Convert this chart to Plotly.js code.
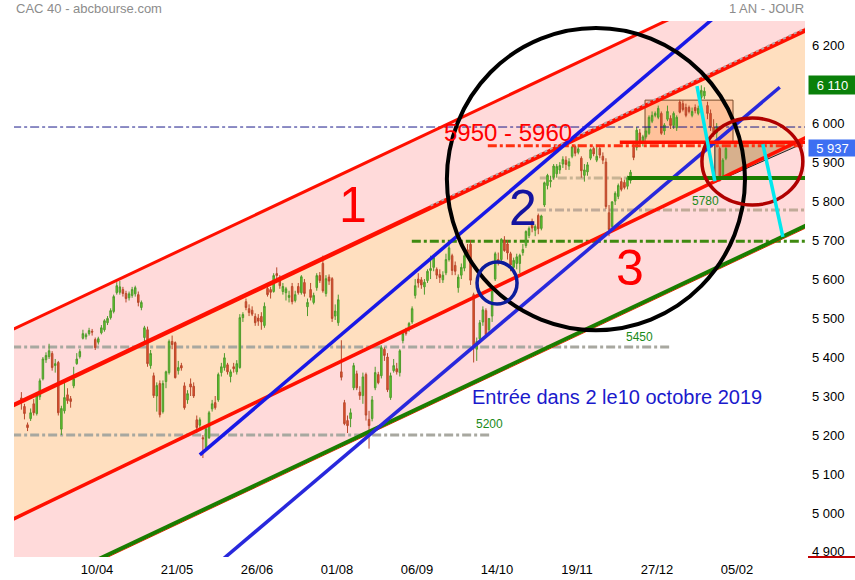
<!DOCTYPE html>
<html>
<head>
<meta charset="utf-8">
<script src="https://cdn.plot.ly/plotly-3.0.1.min.js"></script>
<style>html,body{margin:0;padding:0;background:#fff;}#chart{width:855px;height:580px;}</style>
</head>
<body>
<div id="chart"></div>
<script>
// ---- Daily OHLC, CAC 40, 06/03/2019 -> 29/01/2020 (one value per trading session) ----
const open = [5295,5273,5226,5242,5280,5255,5298,5344,5393,5401,5409,5378,5386,5215,5262,5303,5293,5326,5383,5401,
5448,5452,5460,5466,5445,5438,5462,5470,5488,5501,5517,5565,5566,5573,5563,5552,5558,5562,5560,5527,
5450,5470,5378,5352,5300,5332,5260,5337,5360,5440,5437,5365,5378,5326,5290,5331,5325,5239,5225,5193,
5167,5193,5267,5283,5290,5360,5373,5380,5350,5375,5362,5373,5501,5542,5524,5520,5504,5500,5504,5481,
5576,5573,5568,5614,5599,5568,5565,5553,5581,5545,5581,5565,5591,5529,5573,5540,5578,5609,5640,5563,
5605,5601,5505,5488,5362,5283,5237,5242,5321,5357,5310,5301,5355,5240,5242,5321,5355,5352,5420,5400,
5296,5365,5370,5360,5442,5468,5473,5490,5558,5600,5598,5580,5596,5622,5630,5625,5612,5598,5616,5650,
5660,5635,5578,5610,5628,5675,5689,5560,5420,5447,5490,5519,5470,5505,5600,5650,5650,5700,5690,5665,
5630,5640,5640,5668,5686,5712,5748,5725,5763,5730,5790,5840,5850,5861,5870,5880,5895,5905,5890,5915,
5940,5925,5910,5866,5875,5910,5935,5905,5935,5915,5900,5770,5735,5800,5812,5850,5848,5838,5853,5938,
5938,5975,5950,5965,5974,6005,6020,6015,6025,5980,6010,6012,5994,5988,6054,6050,6040,6040,6020,6040,
6025,6066,6070,6045,6025,5990,5975,5935,5862,5910];
const high = [5310,5280,5232,5268,5292,5306,5345,5400,5412,5434,5415,5395,5390,5275,5335,5320,5300,5375,5410,5420,
5470,5462,5475,5472,5450,5452,5482,5497,5505,5525,5560,5592,5595,5580,5570,5568,5580,5583,5568,5545,
5480,5478,5418,5360,5335,5340,5340,5365,5445,5455,5440,5390,5385,5335,5315,5345,5335,5250,5245,5200,
5222,5262,5290,5300,5360,5385,5410,5385,5368,5385,5392,5510,5515,5550,5535,5530,5512,5510,5515,5540,
5590,5580,5615,5630,5610,5590,5580,5570,5590,5570,5590,5610,5600,5550,5590,5565,5615,5618,5660,5610,
5612,5605,5535,5560,5443,5290,5250,5268,5385,5365,5325,5360,5360,5262,5300,5375,5362,5430,5425,5410,
5360,5395,5385,5420,5465,5475,5490,5530,5600,5615,5605,5600,5625,5660,5660,5630,5625,5620,5665,5695,
5665,5645,5612,5640,5668,5690,5700,5565,5450,5495,5530,5525,5500,5575,5670,5668,5705,5710,5700,5670,
5655,5665,5665,5690,5725,5735,5755,5740,5768,5765,5850,5870,5865,5895,5895,5900,5915,5915,5910,5940,
5945,5945,5915,5895,5900,5935,5940,5945,5940,5925,5910,5790,5800,5825,5845,5860,5855,5865,5880,5950,
5990,5985,5970,5990,6020,6030,6030,6045,6030,6000,6045,6020,6030,6020,6060,6058,6050,6045,6040,6048,
6045,6097,6092,6055,6035,6010,6000,5940,5910,5940];
const low = [5265,5240,5210,5236,5250,5250,5290,5340,5385,5395,5365,5360,5250,5200,5255,5280,5270,5320,5380,5396,
5445,5445,5455,5455,5418,5432,5458,5465,5482,5496,5512,5560,5560,5555,5540,5545,5552,5555,5530,5520,
5440,5375,5370,5295,5260,5245,5255,5320,5355,5420,5345,5355,5365,5265,5280,5300,5295,5205,5218,5141,
5160,5190,5260,5265,5285,5350,5365,5355,5335,5360,5355,5370,5490,5520,5505,5505,5480,5480,5470,5475,
5555,5550,5565,5600,5575,5560,5545,5540,5535,5540,5560,5560,5555,5505,5545,5535,5570,5590,5565,5555,
5585,5490,5495,5480,5340,5225,5205,5220,5315,5315,5290,5280,5237,5165,5235,5315,5330,5345,5390,5310,
5290,5360,5355,5350,5435,5455,5465,5485,5550,5578,5575,5560,5590,5600,5620,5600,5590,5590,5610,5645,
5610,5610,5565,5600,5620,5655,5585,5386,5390,5440,5480,5450,5460,5490,5595,5635,5645,5670,5650,5620,
5620,5625,5615,5660,5680,5705,5720,5710,5715,5725,5785,5830,5835,5855,5860,5870,5885,5880,5880,5910,
5915,5920,5860,5850,5865,5905,5915,5900,5910,5895,5780,5710,5730,5790,5805,5825,5830,5830,5845,5905,
5930,5945,5940,5960,5970,6000,6015,6010,5970,5970,6005,5985,5985,5980,6025,6030,6015,6025,6015,6025,
6020,6060,6062,6010,5980,5965,5960,5850,5855,5905];
const close = [5285,5255,5219,5257,5257,5301,5339,5395,5404,5416,5373,5383,5257,5268,5296,5288,5286,5344,5395,5414,
5460,5457,5468,5464,5424,5447,5475,5493,5499,5519,5555,5583,5580,5563,5550,5562,5573,5578,5540,5540,
5475,5383,5409,5301,5327,5252,5332,5362,5440,5432,5347,5373,5372,5270,5306,5323,5300,5219,5239,5190,
5216,5257,5280,5270,5355,5375,5398,5362,5362,5370,5383,5501,5509,5527,5514,5510,5488,5492,5490,5530,
5560,5566,5609,5609,5583,5581,5575,5558,5542,5560,5565,5606,5563,5540,5553,5558,5609,5596,5570,5601,
5595,5499,5518,5547,5348,5229,5224,5257,5378,5321,5301,5349,5251,5224,5290,5360,5334,5424,5404,5316,
5352,5378,5362,5416,5460,5460,5486,5524,5583,5590,5585,5592,5620,5627,5655,5610,5604,5610,5650,5680,
5622,5620,5605,5630,5660,5665,5597,5424,5440,5488,5521,5457,5499,5569,5665,5643,5702,5673,5667,5636,
5648,5657,5661,5676,5722,5730,5731,5735,5729,5762,5847,5866,5853,5890,5889,5891,5907,5894,5901,5939,
5923,5934,5878,5880,5893,5932,5921,5915,5918,5905,5786,5727,5798,5820,5840,5830,5835,5860,5874,5912,
5982,5955,5965,5980,6015,6020,6025,6038,5974,5995,6030,5994,6025,6015,6028,6035,6020,6030,6030,6032,
6038,6084,6082,6025,5989,5977,5990,5858,5905,5935];

// ---- Axis labels ----
const xTickLabels = ['10/04','21/05','26/06','01/08','06/09','14/10','19/11','27/12','05/02'];
const xTickPos = [24.6, 50.6, 76.6, 102.6, 128.6, 154.6, 180.6, 206.6, 232.6];
const yTickVals = [4900,5000,5100,5200,5300,5400,5500,5600,5700,5800,5900,6000,6200];
const yTickText = ['4 900','5 000','5 100','5 200','5 300','5 400','5 500','5 600','5 700','5 800','5 900','6 000','6 200'];

// ---- Analyst drawings, in (session index, price) units ----
const channelTop    = [[-3, 5470], [255, 6432]];   // red line, top of zone 1
const channelMidUp  = [[-3, 5275], [255, 6239]];   // thick red line
const channelMidLow = [[-3, 4983], [255, 5963]];   // red line, bottom of zone 2
const supportGreen  = [[-3, 4777], [255, 5737]];   // green long-term support
const blueUpper     = [[58.0, 5149], [230, 6303]];
const blueLower     = [[65.3, 4880], [246.5, 6092]];
const cyanA         = [[219.6, 6095], [225.4, 5851]];
const cyanB         = [[241.0, 5946], [247.5, 5708]];
const levelNavy     = {y: 5990, x0: -3, x1: 255};
const levelRedDash  = {y: 5942, x0: 151.6, x1: 255};
const levelRedSolid = {y: 5951, x0: 194.5, x1: 255};
const levelGreen    = {y: 5859, x0: 197.1, x1: 255};
const levelTan1     = {y: 5859, x0: 168.5, x1: 197.1};
const levelTan2     = {y: 5777, x0: 167.6, x1: 255};
const levelGreenDash= {y: 5697, x0: 126.9, x1: 255};
const level5450     = {y: 5426, x0: -3, x1: 211.4};
const level5200     = {y: 5200, x0: -3, x1: 152.3};
const boxRange      = {x0: 202.7, x1: 231.3, y0: 5951, y1: 6059};
const triangle      = [[225.4, 5950], [225.4, 5848], [254.7, 5950]];
const bigCircle     = {x0: 138.3, x1: 235.2, y0: 5469, y1: 6244};
const smallCircle   = {x0: 148.1, x1: 161.1, y0: 5536, y1: 5644};
const redCircle     = {x0: 221.2, x1: 254.0, y0: 5790, y1: 6013};

const idx = close.map((_, i) => i);

const trace = {
  type: 'candlestick', x: idx, open: open, high: high, low: low, close: close,
  increasing: {line: {color: '#4f9a2c', width: 1}, fillcolor: '#5fd02a'},
  decreasing: {line: {color: '#b8482c', width: 1}, fillcolor: '#e8502a'},
  whiskerwidth: 0, hoverinfo: 'none', showlegend: false
};

function seg(p, color, width, dash, layer) {
  return {type: 'line', xref: 'x', yref: 'y', x0: p[0][0], y0: p[0][1], x1: p[1][0], y1: p[1][1],
          line: {color: color, width: width, dash: dash || 'solid'}, layer: layer || 'above'};
}
function hline(h, color, width, dash, layer) {
  return {type: 'line', xref: 'x', yref: 'y', x0: h.x0, x1: h.x1, y0: h.y, y1: h.y,
          line: {color: color, width: width, dash: dash || 'solid'}, layer: layer || 'above'};
}
function band(a, b, color) {
  return {type: 'path', xref: 'x', yref: 'y', layer: 'below',
    path: `M${a[0][0]},${a[0][1]} L${a[1][0]},${a[1][1]} L${b[1][0]},${b[1][1]} L${b[0][0]},${b[0][1]} Z`,
    fillcolor: color, line: {width: 0}};
}
function off(p, d) { return [[p[0][0], p[0][1] + d], [p[1][0], p[1][1] + d]]; }
function circ(c, color, width) {
  return {type: 'circle', xref: 'x', yref: 'y', x0: c.x0, x1: c.x1, y0: c.y0, y1: c.y1,
          line: {color: color, width: width}, fillcolor: 'rgba(0,0,0,0)', layer: 'above'};
}

const l2x = channelMidUp[0][0], l2s = (channelMidUp[1][1]-channelMidUp[0][1])/(channelMidUp[1][0]-channelMidUp[0][0]);
const l2dots = [[133, channelMidUp[0][1] + (133 - l2x) * l2s + 5], [255, channelMidUp[1][1] + 5]];

const shapes = [
  band(channelTop, supportGreen, '#ffdada'),
  band(channelMidUp, channelMidLow, '#ffdfbf'),
  {type: 'rect', xref: 'x', yref: 'y', x0: boxRange.x0, x1: boxRange.x1, y0: boxRange.y0, y1: boxRange.y1,
   fillcolor: 'rgba(255,165,120,0.5)', line: {color: '#7a4a2a', width: 1}, layer: 'below'},
  {type: 'path', xref: 'x', yref: 'y', layer: 'below',
   path: `M${triangle[0][0]},${triangle[0][1]} L${triangle[1][0]},${triangle[1][1]} L${triangle[2][0]},${triangle[2][1]} Z`,
   fillcolor: 'rgba(140,90,50,0.35)', line: {color: '#222', width: 1}},
  hline(level5450, '#a8a8a0', 3, 'dashdot', 'below'),
  hline(level5200, '#a8a8a0', 3, 'dashdot', 'below'),
  hline(levelTan1, '#c8b494', 3, 'dashdot', 'below'),
  hline(levelTan2, '#c0aa98', 3, 'dashdot', 'below'),
  hline(levelGreenDash, '#3f8a10', 3, 'dashdot', 'below'),
  hline(levelNavy, '#1a1a8a', 1, 'dashdot', 'above'),
  hline(levelRedDash, '#ff3010', 3, 'dashdot', 'above'),
  seg(off(supportGreen, -6), '#ff2000', 1),
  seg(supportGreen, '#1a7d00', 4),
  seg(channelTop, '#ff1000', 3),
  seg(channelMidUp, '#ff1000', 4.5),
  seg(l2dots, '#b8a8a8', 2, 'dot'),
  seg(channelMidLow, '#ff1000', 3.5),
  seg(blueUpper, '#1818e6', 3.5),
  seg(blueLower, '#2828dc', 3.5),
  hline(levelRedSolid, '#ff1000', 3.5),
  hline(levelGreen, '#1a7d00', 4),
  circ(bigCircle, '#000000', 4),
  circ(smallCircle, '#0c1c9c', 3.5),
  circ(redCircle, '#b00000', 3.5),
  seg(cyanA, '#00e8ee', 3.5),
  seg(cyanB, '#00e8ee', 3.5),
  {type: 'line', xref: 'paper', yref: 'paper', x0: 1.0038, x1: 1.07, y0: 0.0, y1: 0.0,
   line: {color: '#c00000', width: 2}}
];

const F = 'Arial, "Liberation Sans", sans-serif';
function txt(x, y, t, size, color) {
  return {xref: 'x', yref: 'y', x: x, y: y, text: t, showarrow: false,
          font: {family: F, size: size, color: color}, xanchor: 'center', yanchor: 'middle'};
}
const annotations = [
  txt(107.8, 5790, '1', 50, '#ff0000'),
  txt(163.0, 5782, '2', 50, '#1414a0'),
  txt(197.8, 5628, '3', 50, '#ff0000'),
  txt(158.1, 5977, '5950 - 5960', 24, '#ff0000'),
  txt(193.6, 5297, 'Entrée dans 2 le10 octobre 2019', 20, '#1a1acc'),
  txt(222.5, 5800, '5780', 12, '#1a8a1a'),
  txt(201.0, 5451, '5450', 12, '#1a8a1a'),
  txt(152.3, 5228, '5200', 12, '#1a8a1a'),
  {xref: 'paper', yref: 'paper', x: 0, y: 1.0224, xanchor: 'left', yanchor: 'middle', showarrow: false,
   text: 'CAC 40 - abcbourse.com', font: {family: F, size: 13, color: '#8c8c8c'}},
  {xref: 'paper', yref: 'paper', x: 1.0013, y: 1.0224, xanchor: 'right', yanchor: 'middle', showarrow: false,
   text: '1 AN - JOUR', font: {family: F, size: 13, color: '#8c8c8c'}},
  {xref: 'paper', yref: 'y', x: 1.0038, y: 6099, xanchor: 'left', yanchor: 'middle', showarrow: false,
   text: '6 110', font: {family: F, size: 13, color: '#ffffff'}, bgcolor: '#0a800a',
   width: 43, height: 14, borderpad: 2, align: 'center'},
  {xref: 'paper', yref: 'y', x: 1.0038, y: 5935, xanchor: 'left', yanchor: 'middle', showarrow: false,
   text: '5 937', font: {family: F, size: 13, color: '#ffffff'}, bgcolor: '#3d6ff2',
   width: 43, height: 12, borderpad: 2, align: 'center'}
];

const layout = {
  width: 855, height: 580,
  margin: {l: 14, r: 50, t: 21, b: 23, pad: 0},
  paper_bgcolor: '#ffffff', plot_bgcolor: '#ffffff',
  showlegend: false, dragmode: false,
  xaxis: {range: [-2.4, 254.7], showgrid: false, zeroline: false, showline: false, ticks: '',
          tickmode: 'array', tickvals: xTickPos, ticktext: xTickLabels, ticklabelstandoff: 3,
          tickfont: {family: F, size: 13, color: '#000'}, rangeslider: {visible: false}, fixedrange: true},
  yaxis: {side: 'right', range: [4887, 6262], showgrid: false, zeroline: false, showline: false, ticks: '',
          tickmode: 'array', tickvals: yTickVals, ticktext: yTickText, ticklabelstandoff: 6,
          tickfont: {family: F, size: 13, color: '#000'}, fixedrange: true},
  shapes: shapes, annotations: annotations
};

Plotly.newPlot('chart', [trace], layout, {displayModeBar: false, staticPlot: true});
</script>
</body>
</html>
